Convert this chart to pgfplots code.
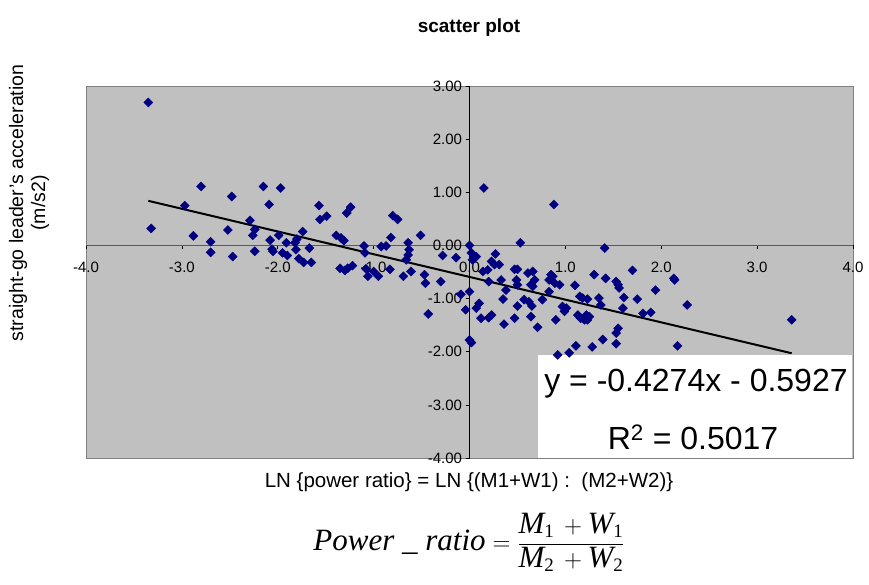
\documentclass[border=0pt]{standalone}
\usepackage{pgfplots}
\pgfplotsset{compat=1.18}
\usepackage{fontspec}
\setmainfont{Liberation Sans}
\newfontfamily\timesf{Liberation Serif}
\definecolor{plotgray}{HTML}{C0C0C0}
\definecolor{navy}{HTML}{000080}
\begin{document}
\begin{tikzpicture}[x=1pt,y=1pt]
\useasboundingbox (-86,-127) rectangle (783,458);
\begin{axis}[
  at={(0,0)}, anchor=south west,
  scale only axis, width=767pt, height=372pt,
  xmin=-4, xmax=4, ymin=-4, ymax=3,
  axis lines=middle,
  axis line style={-, black},
  x axis line style={draw=black!65},
  axis background/.style={fill=plotgray, draw=black!50},
  xtick={-4,-3,...,4}, ytick={-4,-3,...,3},
  hide obscured x ticks=false, hide obscured y ticks=false,
  tick align=outside, major tick length=4pt,
  tick style={black, line width=0.6pt},
  ticklabel style={font=\fontsize{15}{17}\selectfont},
  xticklabel style={yshift=-9pt, /pgf/number format/.cd, fixed, fixed zerofill, precision=1, assume math mode=true},
  yticklabel style={/pgf/number format/.cd, fixed, fixed zerofill, precision=2, assume math mode=true},
  clip=false,
]
\addplot[only marks, mark=square*, mark size=3.2pt, mark options={rotate=45, draw=navy, fill=navy}] table {
x y
-3.35 2.69
-3.32 0.32
-2.97 0.75
-2.80 1.11
-2.88 0.18
-2.70 0.07
-2.70 -0.13
-2.48 0.92
-2.52 0.29
-2.47 -0.21
-2.29 0.47
-2.24 0.30
-2.26 0.19
-2.24 -0.11
-2.15 1.11
-2.09 0.77
-1.97 1.08
-2.08 0.10
-2.06 -0.07
-2.05 -0.11
-1.99 0.19
-1.95 -0.14
-1.90 -0.19
-1.91 0.05
-1.82 0.05
-1.81 -0.08
-1.80 0.12
-1.78 -0.25
-1.74 0.26
-1.73 -0.32
-1.67 -0.05
-1.65 -0.32
-1.57 0.75
-1.56 0.49
-1.49 0.55
-1.39 0.19
-1.34 0.14
-1.31 0.09
-1.35 -0.43
-1.30 -0.47
-1.27 -0.43
-1.22 -0.38
-1.28 0.61
-1.24 0.72
-1.10 -0.01
-1.09 -0.14
-1.08 -0.44
-1.06 -0.58
-1.00 -0.49
-0.95 -0.58
-0.92 -0.02
-0.87 -0.01
-0.82 0.15
-0.83 -0.45
-0.80 0.56
-0.75 0.49
-0.69 -0.58
-0.66 -0.27
-0.64 -0.18
-0.63 -0.08
-0.64 0.05
-0.61 -0.49
-0.51 0.19
-0.47 -0.55
-0.46 -0.71
-0.43 -1.29
-0.30 -0.68
-0.28 -0.19
-0.14 -0.23
-0.09 -0.92
-0.04 -1.21
0.00 0.00
0.02 -0.14
0.03 -0.27
0.05 -0.24
0.00 -0.87
0.00 -1.78
0.02 -1.83
0.07 -0.21
0.07 -1.18
0.10 -1.09
0.12 -1.37
0.14 -0.49
0.15 1.08
0.19 -0.46
0.20 -0.68
0.20 -1.36
0.23 -1.31
0.23 -0.30
0.27 -0.16
0.26 -0.36
0.31 -0.36
0.33 -0.65
0.35 -1.01
0.38 -0.84
0.36 -1.48
0.47 -0.45
0.50 -0.45
0.49 -0.65
0.50 -0.74
0.47 -1.37
0.50 -1.14
0.53 0.05
0.57 -1.02
0.62 -1.06
0.65 -1.14
0.61 -0.52
0.66 -0.49
0.68 -0.65
0.64 -0.74
0.66 -0.77
0.64 -1.34
0.71 -1.54
0.76 -1.02
0.83 -0.65
0.85 -0.55
0.87 -0.58
0.89 -0.71
0.83 -0.87
0.88 0.77
0.90 -1.40
0.94 -0.74
0.92 -2.06
0.97 -1.15
1.01 -1.18
0.99 -1.24
1.04 -2.02
1.10 -0.75
1.11 -1.89
1.13 -1.31
1.16 -1.37
1.20 -1.40
1.22 -1.31
1.23 -1.40
1.25 -1.34
1.15 -0.96
1.18 -0.99
1.23 -1.01
1.28 -1.91
1.30 -0.55
1.35 -0.99
1.37 -1.12
1.39 -1.77
1.41 -0.05
1.42 -0.62
1.53 -0.68
1.55 -0.74
1.56 -0.80
1.55 -1.56
1.53 -1.65
1.53 -1.85
1.60 -1.18
1.61 -0.98
1.70 -0.47
1.75 -1.01
1.81 -1.28
1.89 -1.26
1.94 -0.84
2.13 -0.62
2.14 -0.65
2.27 -1.12
2.17 -1.89
3.36 -1.40
};
\addplot[black, line width=2pt] coordinates {(-3.35,0.8391) (3.36,-2.0288)};
\fill[white] (axis cs:0.71,-2.06) rectangle (axis cs:3.99,-4);
\end{axis}
\node[font=\bfseries\fontsize{19}{22}\selectfont] at (383,430) {scatter plot};
\node[rotate=90, align=center, font=\fontsize{19.5}{22}\selectfont] at (-57,255) {straight-go leader's acceleration\\(m/s2)};
\node[font=\fontsize{20.5}{23}\selectfont] at (383,-24) {LN \{power ratio\} = LN \{(M1+W1) :\ \ (M2+W2)\}};
\node[font=\fontsize{31}{36}\selectfont] at (383,-84) {$\displaystyle \hbox{\timesf\itshape Power \_ ratio} = \frac{\hbox{\timesf\itshape M}_{\hbox{\timesf\fontsize{19}{21}\selectfont 1}}\,+\hbox{\timesf\itshape W}_{\hbox{\timesf\fontsize{19}{21}\selectfont 1}}}{\hbox{\timesf\itshape M}_{\hbox{\timesf\fontsize{19}{21}\selectfont 2}}\,+\hbox{\timesf\itshape W}_{\hbox{\timesf\fontsize{19}{21}\selectfont 2}}}$};
\node[font=\fontsize{32}{36}\selectfont] at (610,74) {y = -0.4274x - 0.5927};
\node[font=\fontsize{32}{36}\selectfont] at (607,21) {R\textsuperscript{2} = 0.5017};
\end{tikzpicture}
\end{document}
